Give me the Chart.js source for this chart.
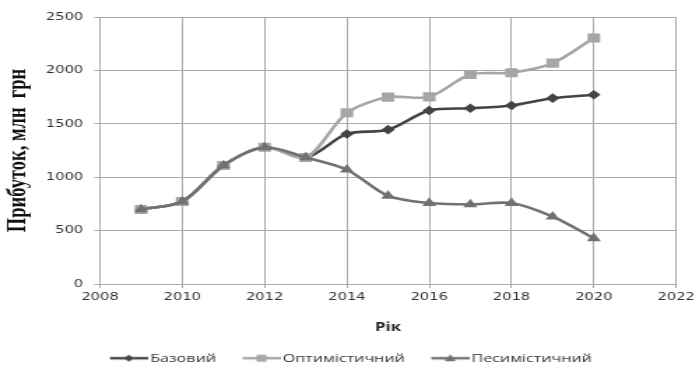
<!DOCTYPE html>
<html>
<head>
<meta charset="utf-8">
<script src="https://cdn.jsdelivr.net/npm/chart.js@4"></script>
<style>
  html, body { margin: 0; padding: 0; background: #ffffff; overflow: hidden; }
  /* the chart is laid out on a 500px canvas and widened to the 699px page */
  #wrap { width: 500px; height: 366px; transform: scaleX(1.398); transform-origin: 0 0; }
  #c { display: block; }
</style>
</head>
<body>
<div id="wrap"><canvas id="c" width="500" height="366"></canvas></div>
<script>
// Прогноз прибутку за сценаріями, млн грн
const years       = [2009, 2010, 2011, 2012, 2013, 2014, 2015, 2016, 2017, 2018, 2019, 2020];
const baseValues  = [698, 772, 1110, 1280, 1185, 1405, 1445, 1625, 1645, 1672, 1740, 1772];
const optValues   = [698, 772, 1110, 1280, 1185, 1603, 1750, 1752, 1962, 1978, 2068, 2304];
const pesValues   = [698, 772, 1110, 1280, 1185, 1070, 825, 758, 745, 758, 630, 428];
const xTicks      = [2008, 2010, 2012, 2014, 2016, 2018, 2020, 2022];
const yTicks      = [0, 500, 1000, 1500, 2000, 2500];
const xTitle      = 'Рік';
const yTitle      = 'Прибуток, млн  грн';

const toPoints = vals => vals.map((v, i) => ({ x: years[i], y: v }));

// legend sample: blank lead-in, then a short line with the marker in the middle
const ICON_W = 47, LINE_W = 27;
function legendIcon(color, style) {
  const cv = document.createElement('canvas');
  cv.width = ICON_W; cv.height = 10;
  const g = cv.getContext('2d');
  const x0 = ICON_W - LINE_W, cx = x0 + LINE_W / 2, cy = 5;
  g.strokeStyle = color; g.fillStyle = color; g.lineWidth = 2.5;
  g.beginPath(); g.moveTo(x0, cy); g.lineTo(ICON_W, cy); g.stroke();
  g.beginPath();
  if (style === 'rectRot') {
    g.moveTo(cx, cy - 3.5); g.lineTo(cx + 3.5, cy); g.lineTo(cx, cy + 3.5); g.lineTo(cx - 3.5, cy);
  } else if (style === 'rect') {
    g.rect(cx - 3.5, cy - 3.5, 7, 7);
  } else {
    g.moveTo(cx, cy - 4); g.lineTo(cx + 4, cy + 3); g.lineTo(cx - 4, cy + 3);
  }
  g.closePath(); g.fill();
  return cv;
}

const series = [
  { label: 'Базовий',       vals: baseValues, color: '#444444', style: 'rectRot',  r: 4.8, order: 2 },
  { label: 'Оптимістичний', vals: optValues,  color: '#a6a6a6', style: 'rect',     r: 6.4, order: 1 },
  { label: 'Песимістичний', vals: pesValues,  color: '#717171', style: 'triangle', r: 5.8, order: 0 }
];

const datasets = series.map(s => ({
  label: s.label,
  data: toPoints(s.vals),
  borderColor: s.color,
  backgroundColor: s.color,
  pointBackgroundColor: s.color,
  pointBorderColor: s.color,
  pointBorderWidth: 0,
  pointStyle: s.style,
  pointRadius: s.r,
  borderWidth: 2.6,
  tension: 0.3,
  order: s.order,
  legendIcon: legendIcon(s.color, s.style)
}));

const gridColor = '#a9a9a9';
const tickFont = { family: 'DejaVu Sans', size: 10.5 };

new Chart(document.getElementById('c'), {
  type: 'line',
  data: { datasets },
  options: {
    responsive: false,
    animation: false,
    layout: { padding: { top: 17, right: 14, left: 0, bottom: -8 } },
    plugins: {
      tooltip: { enabled: false },
      legend: {
        position: 'bottom',
        labels: {
          usePointStyle: true,
          pointStyleWidth: ICON_W - 8,
          padding: 3,
          color: '#333333',
          font: { family: 'Open Sans', size: 11.5 },
          generateLabels: chart => chart.data.datasets.map((ds, i) => ({
            text: ds.label,
            datasetIndex: i,
            pointStyle: ds.legendIcon,
            fillStyle: ds.borderColor,
            strokeStyle: ds.borderColor,
            lineWidth: 0,
            fontColor: '#333333',
            hidden: false
          }))
        }
      }
    },
    scales: {
      x: {
        type: 'linear',
        min: 2008, max: 2022,
        afterBuildTicks: sc => { sc.ticks = xTicks.map(v => ({ value: v })); },
        afterFit: sc => { sc.height = 65.5; },
        ticks: {
          color: '#333333',
          font: tickFont,
          padding: 3,
          maxRotation: 0,
          callback: v => String(v)
        },
        grid: { color: gridColor, lineWidth: 1, tickLength: 4 },
        border: { color: gridColor, width: 1 },
        title: {
          display: true, text: xTitle, color: '#222222',
          font: { family: 'Open Sans', size: 12, weight: 'bold' },
          padding: { top: 4, bottom: 15 }
        }
      },
      y: {
        min: 0, max: 2500,
        afterBuildTicks: sc => { sc.ticks = yTicks.map(v => ({ value: v })); },
        afterFit: sc => { sc.width = 71.5; },
        ticks: {
          color: '#333333',
          font: tickFont,
          padding: 8,
          callback: v => String(v)
        },
        grid: { color: gridColor, lineWidth: 1, tickLength: 4 },
        border: { color: gridColor, width: 1 },
        title: {
          display: true, text: yTitle, color: '#111111',
          font: { family: 'Liberation Serif', size: 18.5, weight: 'bold' },
          padding: { top: 2, bottom: 4 }
        }
      }
    }
  }
});
</script>
</body>
</html>
